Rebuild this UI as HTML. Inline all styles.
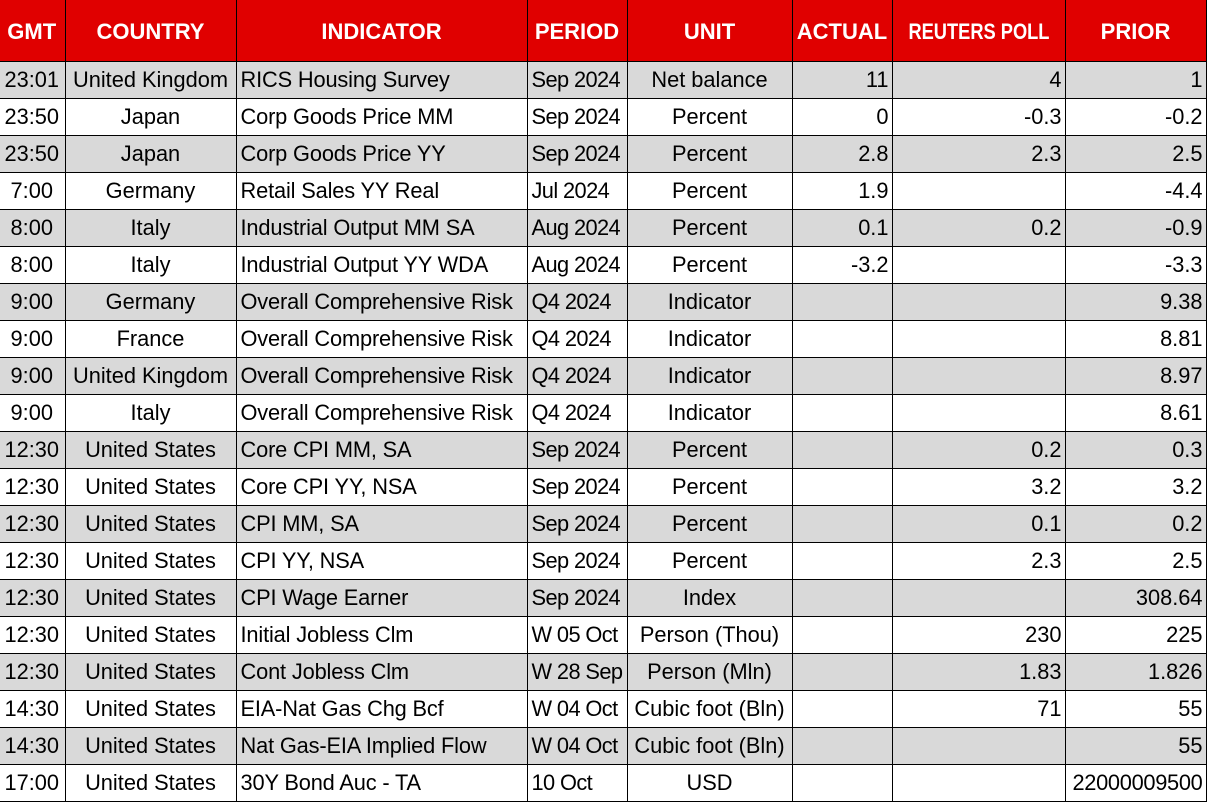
<!DOCTYPE html>
<html>
<head>
<meta charset="utf-8">
<style>
html,body{margin:0;padding:0;background:#fff;width:1209px;height:802px;overflow:hidden;}
table{position:absolute;left:-1px;top:0;border-collapse:collapse;table-layout:fixed;width:1207px;font-family:"Liberation Sans",Arial,sans-serif;color:#000;}
td,th{border-right:1px solid #000;border-bottom:1px solid #000;padding:0;white-space:nowrap;overflow:hidden;}
th{background:#e00000;color:#fff;font-weight:bold;font-size:22px;height:58px;padding-top:3px;text-align:center;vertical-align:middle;}
td{font-size:21.8px;height:36px;vertical-align:middle;}
tr.g td{background:#d9d9d9;}
td.c{text-align:center;}
td.l{text-align:left;padding-left:4px;letter-spacing:-0.15px;}
td.p{text-align:left;padding-left:4px;letter-spacing:-0.6px;}
td.r{text-align:right;padding-right:3px;}
.sq{display:inline-block;transform:scaleX(0.83);transform-origin:center;}
.n{letter-spacing:-0.3px;}
</style>
</head>
<body>
<table>
<colgroup>
<col style="width:66px"><col style="width:171px"><col style="width:291px"><col style="width:100px"><col style="width:165px"><col style="width:100px"><col style="width:173px"><col style="width:141px">
</colgroup>
<tr><th>GMT</th><th>COUNTRY</th><th>INDICATOR</th><th>PERIOD</th><th>UNIT</th><th>ACTUAL</th><th><span class="sq">REUTERS POLL</span></th><th>PRIOR</th></tr>
<tr class="g"><td class="c">23:01</td><td class="c">United Kingdom</td><td class="l">RICS Housing Survey</td><td class="p">Sep 2024</td><td class="c">Net balance</td><td class="r">11</td><td class="r">4</td><td class="r">1</td></tr>
<tr><td class="c">23:50</td><td class="c">Japan</td><td class="l">Corp Goods Price MM</td><td class="p">Sep 2024</td><td class="c">Percent</td><td class="r">0</td><td class="r">-0.3</td><td class="r">-0.2</td></tr>
<tr class="g"><td class="c">23:50</td><td class="c">Japan</td><td class="l">Corp Goods Price YY</td><td class="p">Sep 2024</td><td class="c">Percent</td><td class="r">2.8</td><td class="r">2.3</td><td class="r">2.5</td></tr>
<tr><td class="c">7:00</td><td class="c">Germany</td><td class="l">Retail Sales YY Real</td><td class="p">Jul 2024</td><td class="c">Percent</td><td class="r">1.9</td><td class="r"></td><td class="r">-4.4</td></tr>
<tr class="g"><td class="c">8:00</td><td class="c">Italy</td><td class="l">Industrial Output MM SA</td><td class="p">Aug 2024</td><td class="c">Percent</td><td class="r">0.1</td><td class="r">0.2</td><td class="r">-0.9</td></tr>
<tr><td class="c">8:00</td><td class="c">Italy</td><td class="l">Industrial Output YY WDA</td><td class="p">Aug 2024</td><td class="c">Percent</td><td class="r">-3.2</td><td class="r"></td><td class="r">-3.3</td></tr>
<tr class="g"><td class="c">9:00</td><td class="c">Germany</td><td class="l">Overall Comprehensive Risk</td><td class="p">Q4 2024</td><td class="c">Indicator</td><td class="r"></td><td class="r"></td><td class="r">9.38</td></tr>
<tr><td class="c">9:00</td><td class="c">France</td><td class="l">Overall Comprehensive Risk</td><td class="p">Q4 2024</td><td class="c">Indicator</td><td class="r"></td><td class="r"></td><td class="r">8.81</td></tr>
<tr class="g"><td class="c">9:00</td><td class="c">United Kingdom</td><td class="l">Overall Comprehensive Risk</td><td class="p">Q4 2024</td><td class="c">Indicator</td><td class="r"></td><td class="r"></td><td class="r">8.97</td></tr>
<tr><td class="c">9:00</td><td class="c">Italy</td><td class="l">Overall Comprehensive Risk</td><td class="p">Q4 2024</td><td class="c">Indicator</td><td class="r"></td><td class="r"></td><td class="r">8.61</td></tr>
<tr class="g"><td class="c">12:30</td><td class="c">United States</td><td class="l">Core CPI MM, SA</td><td class="p">Sep 2024</td><td class="c">Percent</td><td class="r"></td><td class="r">0.2</td><td class="r">0.3</td></tr>
<tr><td class="c">12:30</td><td class="c">United States</td><td class="l">Core CPI YY, NSA</td><td class="p">Sep 2024</td><td class="c">Percent</td><td class="r"></td><td class="r">3.2</td><td class="r">3.2</td></tr>
<tr class="g"><td class="c">12:30</td><td class="c">United States</td><td class="l">CPI MM, SA</td><td class="p">Sep 2024</td><td class="c">Percent</td><td class="r"></td><td class="r">0.1</td><td class="r">0.2</td></tr>
<tr><td class="c">12:30</td><td class="c">United States</td><td class="l">CPI YY, NSA</td><td class="p">Sep 2024</td><td class="c">Percent</td><td class="r"></td><td class="r">2.3</td><td class="r">2.5</td></tr>
<tr class="g"><td class="c">12:30</td><td class="c">United States</td><td class="l">CPI Wage Earner</td><td class="p">Sep 2024</td><td class="c">Index</td><td class="r"></td><td class="r"></td><td class="r">308.64</td></tr>
<tr><td class="c">12:30</td><td class="c">United States</td><td class="l">Initial Jobless Clm</td><td class="p">W 05 Oct</td><td class="c">Person (Thou)</td><td class="r"></td><td class="r">230</td><td class="r">225</td></tr>
<tr class="g"><td class="c">12:30</td><td class="c">United States</td><td class="l">Cont Jobless Clm</td><td class="p">W 28 Sep</td><td class="c">Person (Mln)</td><td class="r"></td><td class="r">1.83</td><td class="r">1.826</td></tr>
<tr><td class="c">14:30</td><td class="c">United States</td><td class="l">EIA-Nat Gas Chg Bcf</td><td class="p">W 04 Oct</td><td class="c">Cubic foot (Bln)</td><td class="r"></td><td class="r">71</td><td class="r">55</td></tr>
<tr class="g"><td class="c">14:30</td><td class="c">United States</td><td class="l">Nat Gas-EIA Implied Flow</td><td class="p">W 04 Oct</td><td class="c">Cubic foot (Bln)</td><td class="r"></td><td class="r"></td><td class="r">55</td></tr>
<tr><td class="c">17:00</td><td class="c">United States</td><td class="l">30Y Bond Auc - TA</td><td class="p">10 Oct</td><td class="c">USD</td><td class="r"></td><td class="r"></td><td class="r"><span class="n">22000009500</span></td></tr>
</table>
</body>
</html>
